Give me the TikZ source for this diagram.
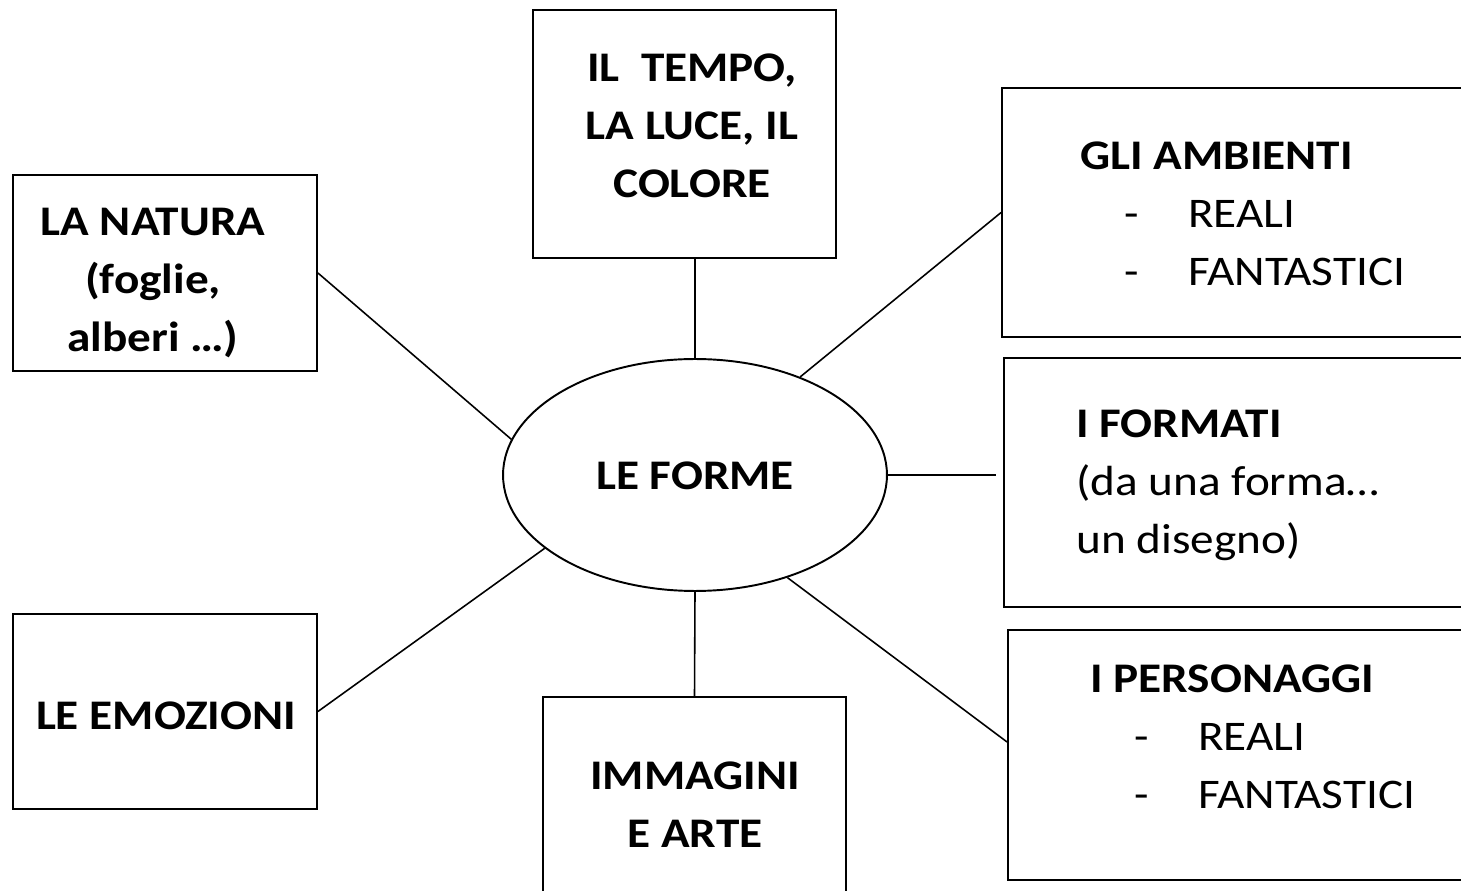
\documentclass[tikz,border=0pt]{standalone}
\usepackage{fontspec}
\setmainfont{Carlito}[FakeStretch=1.12]
\usetikzlibrary{shapes.geometric}

\tikzset{
	box/.style={draw,line width=1.1pt,inner sep=0pt},
	txt/.style={inner sep=0pt,font=\fontsize{24}{33}\selectfont},
	link/.style={line width=0.9pt}
}
\newcommand{\voce}[1]{\hspace*{0.88cm}\makebox[1.28cm][l]{-}#1}

\begin{document}
\begin{tikzpicture}[x=0.02cm,y=-0.02cm]
	\useasboundingbox (0,0) rectangle (1461,891);
	\clip (0,0) rectangle (1461,891);
	
	\node[box,ellipse,minimum width=7.68cm,minimum height=4.64cm] (forme) at (695,475) {};
	\node[txt,font=\fontsize{24}{33}\selectfont\bfseries] (forme-t) at (695,476) {LE FORME};
	
	\node[box,minimum width=6.06cm,minimum height=4.96cm] (tempo) at (684.5,134) {};
	\node[txt,align=center,font=\fontsize{24}{33}\selectfont\bfseries] (tempo-t) at (692,126) {IL\ \ TEMPO,\\LA LUCE, IL\\COLORE};
	
	\node[box,minimum width=6.08cm,minimum height=3.92cm] (natura) at (165,273) {};
	\node[txt,align=center,font=\fontsize{24}{33}\selectfont\bfseries] (natura-t) at (153,283) {LA NATURA\\(foglie,\\alberi …)};
	
	\node[box,minimum width=6.08cm,minimum height=3.9cm] (emozioni) at (165,711.5) {};
	\node[txt,font=\fontsize{24}{33}\selectfont\bfseries] (emozioni-t) at (166,716) {LE EMOZIONI};
	
	\node[box,minimum width=6.06cm,minimum height=4.32cm] (immagini) at (694.5,805) {};
	\node[txt,align=center,font=\fontsize{24}{33}\selectfont\bfseries] (immagini-t) at (695,805) {IMMAGINI\\E ARTE};
	
	\node[box,minimum width=9.48cm,minimum height=4.98cm] (ambienti) at (1239,212.5) {};
	\node[txt,anchor=west,align=left] (ambienti-t) at (1080,214) {\textbf{GLI AMBIENTI}\\\voce{REALI}\\\voce{FANTASTICI}};
	
	\node[box,minimum width=9.44cm,minimum height=4.98cm] (formati) at (1240,482.5) {};
	\node[txt,anchor=west,align=left] (formati-t) at (1076,485) {\textbf{I FORMATI}\\(da una forma…\\un disegno)};
	
	\node[box,minimum width=9.36cm,minimum height=5cm] (personaggi) at (1242,755) {};
	\node[txt,anchor=west,align=left] (personaggi-t) at (1090,737) {\textbf{I PERSONAGGI}\\\voce{REALI}\\\voce{FANTASTICI}};
	
	\draw[link] (forme.north |- tempo.south)--(forme.north);	%tempo--forme
	\draw[link] (natura.east)--(forme.169);		%natura--forme
	\draw[link] (ambienti.west)--(forme.43);		%ambienti--forme
	\draw[link,shorten >=0.14cm] (forme.east)--(forme.east -| formati.west);	%forme--formati
	\draw[link] (forme.-48)--([yshift=0.26cm]personaggi.west);	%forme--personaggi
	\draw[link] (forme.206)--(emozioni.east);		%forme--emozioni
	\draw[link] (forme.south)--(immagini.north);	%forme--immagini
\end{tikzpicture}
\end{document}
